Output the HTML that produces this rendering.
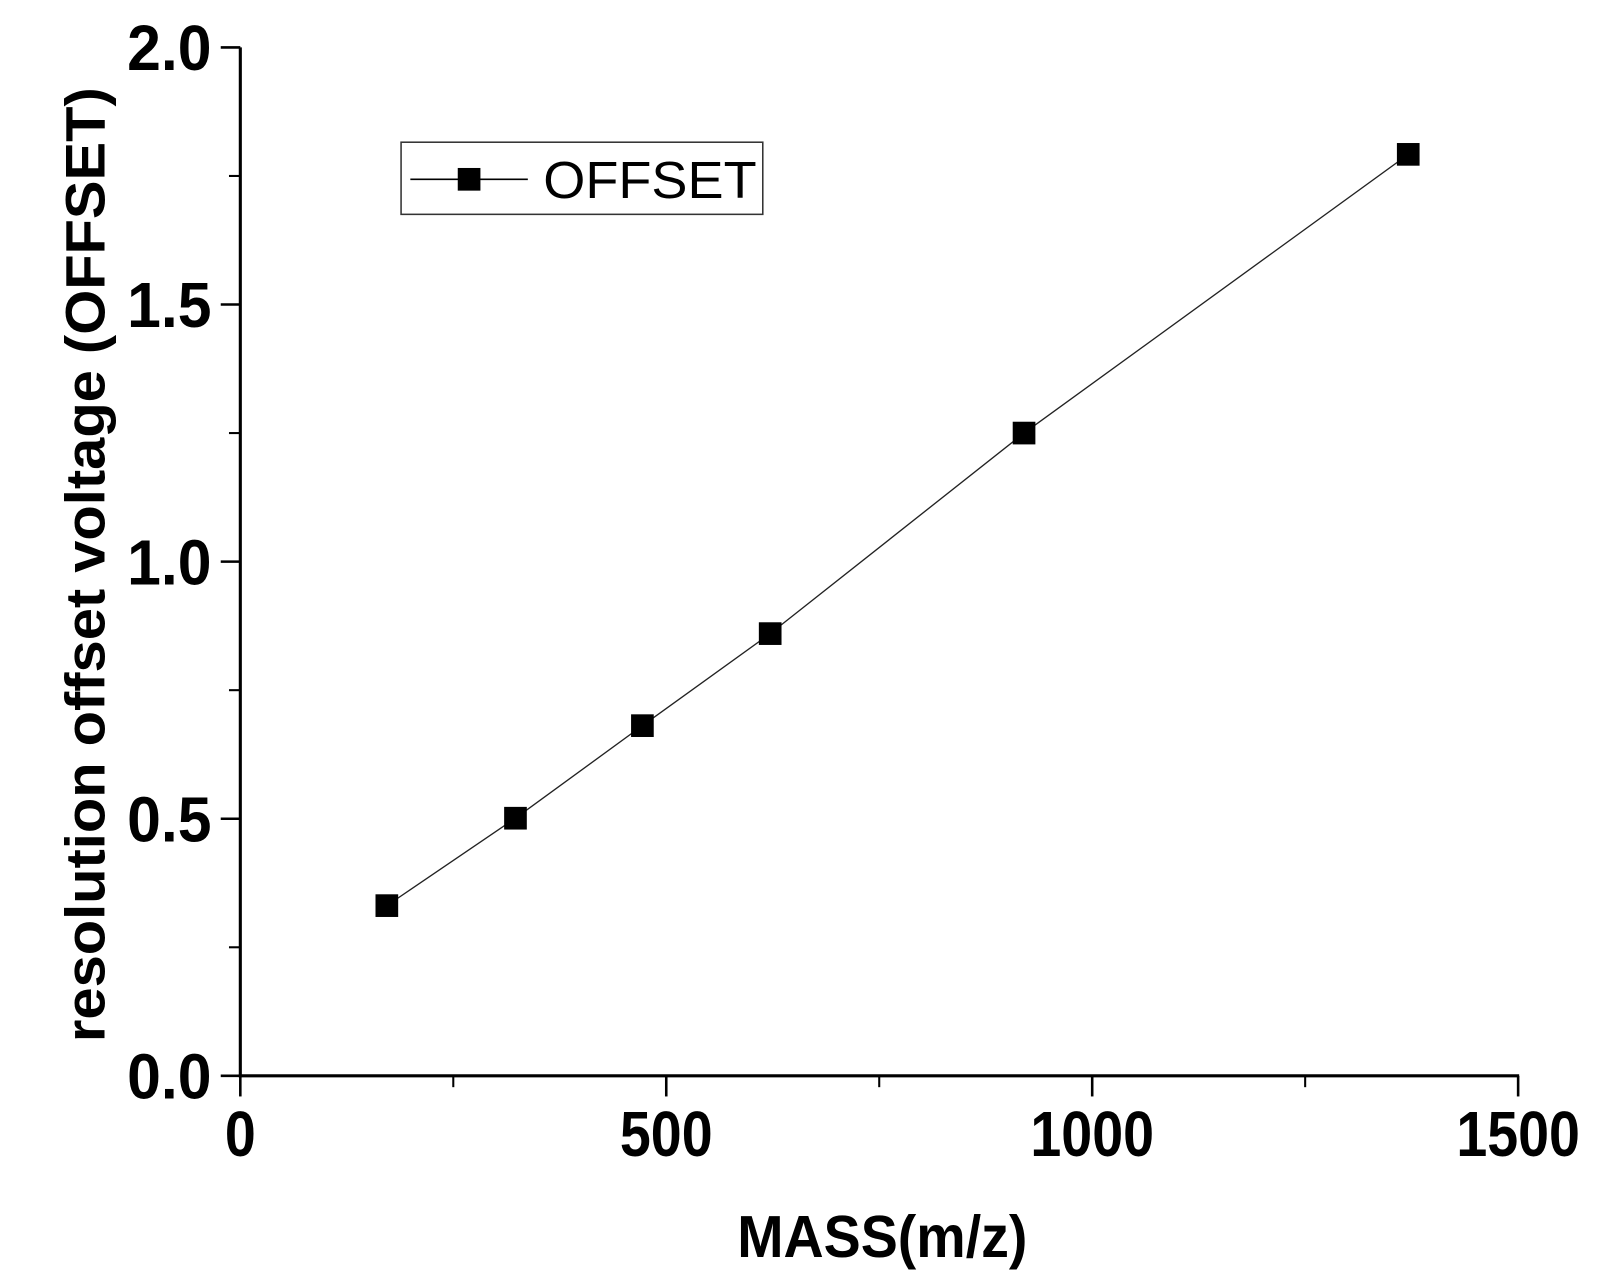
<!DOCTYPE html>
<html><head><meta charset="utf-8"><style>
html,body{margin:0;padding:0;background:#fff}
svg{display:block}
text{font-family:"Liberation Sans",sans-serif}
</style></head><body>
<svg id="chart" width="1608" height="1284" viewBox="0 0 1560 1246" xmlns="http://www.w3.org/2000/svg">
<g id="axes"></g>
<g id="plot"></g>
<text transform="translate(101,548) rotate(-90) scale(1.04,1)" text-anchor="middle" font-size="54" font-weight="bold">resolution offset voltage (OFFSET)</text>
<text transform="translate(856,1220) scale(0.93,1)" text-anchor="middle" font-size="58" font-weight="bold">MASS(m/z)</text>
<g>
<rect x="389" y="138" width="351" height="70" fill="#fff" stroke="#333" stroke-width="1.5"/>
<line x1="398" y1="174" x2="512" y2="174" stroke="#000" stroke-width="1.5"/>
<rect x="444" y="163" width="22" height="22" fill="#000"/>
<text transform="translate(527,192) scale(1.05,1)" font-size="50">OFFSET</text>
</g>
</svg>
<script>
const xValues = [172, 323, 472, 622, 920, 1371];
const yValues = [0.331, 0.501, 0.681, 0.86, 1.25, 1.792];
const xTicks = [0, 500, 1000, 1500];
const xMinor = [250, 750, 1250];
const yTicks = [0.0, 0.5, 1.0, 1.5, 2.0];
const yMinor = [0.25, 0.75, 1.25, 1.75];
const yTickLabels = ["0.0", "0.5", "1.0", "1.5", "2.0"];
const xTickLabels = ["0", "500", "1000", "1500"];

const X0 = 233, X1 = 1473, Y0 = 1044, Y1 = 46;
const sx = v => X0 + (v - 0) / 1500 * (X1 - X0);
const sy = v => Y0 - (v - 0) / 2 * (Y0 - Y1);
const NS = "http://www.w3.org/2000/svg";
const axes = document.getElementById('axes');
const plot = document.getElementById('plot');
function mk(tag, attrs, parent) {
  const e = document.createElementNS(NS, tag);
  for (const k in attrs) e.setAttribute(k, attrs[k]);
  parent.appendChild(e);
  return e;
}
let e;
e = mk('line', {x1: X0, y1: Y1, x2: X0, y2: Y0 + 1.5, stroke: '#000', 'stroke-width': 3}, axes);


e = mk('line', {x1: X0 - 1.5, y1: Y0, x2: X1 + 1, y2: Y0, stroke: '#000', 'stroke-width': 3}, axes);


xTicks.forEach((v, i) => {
  e = mk('line', {x1: sx(v), y1: Y0, x2: sx(v), y2: Y0 + 20, stroke: '#000', 'stroke-width': 2.5}, axes);
  
  
  e = mk('text', {transform: 'translate(' + sx(v) + ',' + (Y0 + 78) + ') scale(0.87,1)', 'text-anchor': 'middle', 'font-size': 62, 'font-weight': 'bold'}, axes);
  e.textContent = xTickLabels[i];
  
  
});
xMinor.forEach(v => {
  e = mk('line', {x1: sx(v), y1: Y0, x2: sx(v), y2: Y0 + 11, stroke: '#000', 'stroke-width': 2}, axes);
  
  
});
yTicks.forEach((v, i) => {
  e = mk('line', {x1: X0 - 19, y1: sy(v), x2: X0, y2: sy(v), stroke: '#000', 'stroke-width': 2.5}, axes);
  
  
  e = mk('text', {transform: 'translate(' + (X0 - 28) + ',' + (sy(v) + 22) + ') scale(0.95,1)', 'text-anchor': 'end', 'font-size': 62, 'font-weight': 'bold'}, axes);
  e.textContent = yTickLabels[i];
  
  
});
yMinor.forEach(v => {
  e = mk('line', {x1: X0 - 11, y1: sy(v), x2: X0, y2: sy(v), stroke: '#000', 'stroke-width': 2}, axes);
  
  
});
const pts = xValues.map((x, i) => sx(x) + ',' + sy(yValues[i])).join(' ');
e = mk('polyline', {points: pts, fill: 'none', stroke: '#222', 'stroke-width': 1.3}, plot);


xValues.forEach((x, i) => {
  e = mk('rect', {x: sx(x) - 11, y: sy(yValues[i]) - 11, width: 22, height: 22, fill: '#000'}, plot);
  
  
});
</script>
</body></html>
